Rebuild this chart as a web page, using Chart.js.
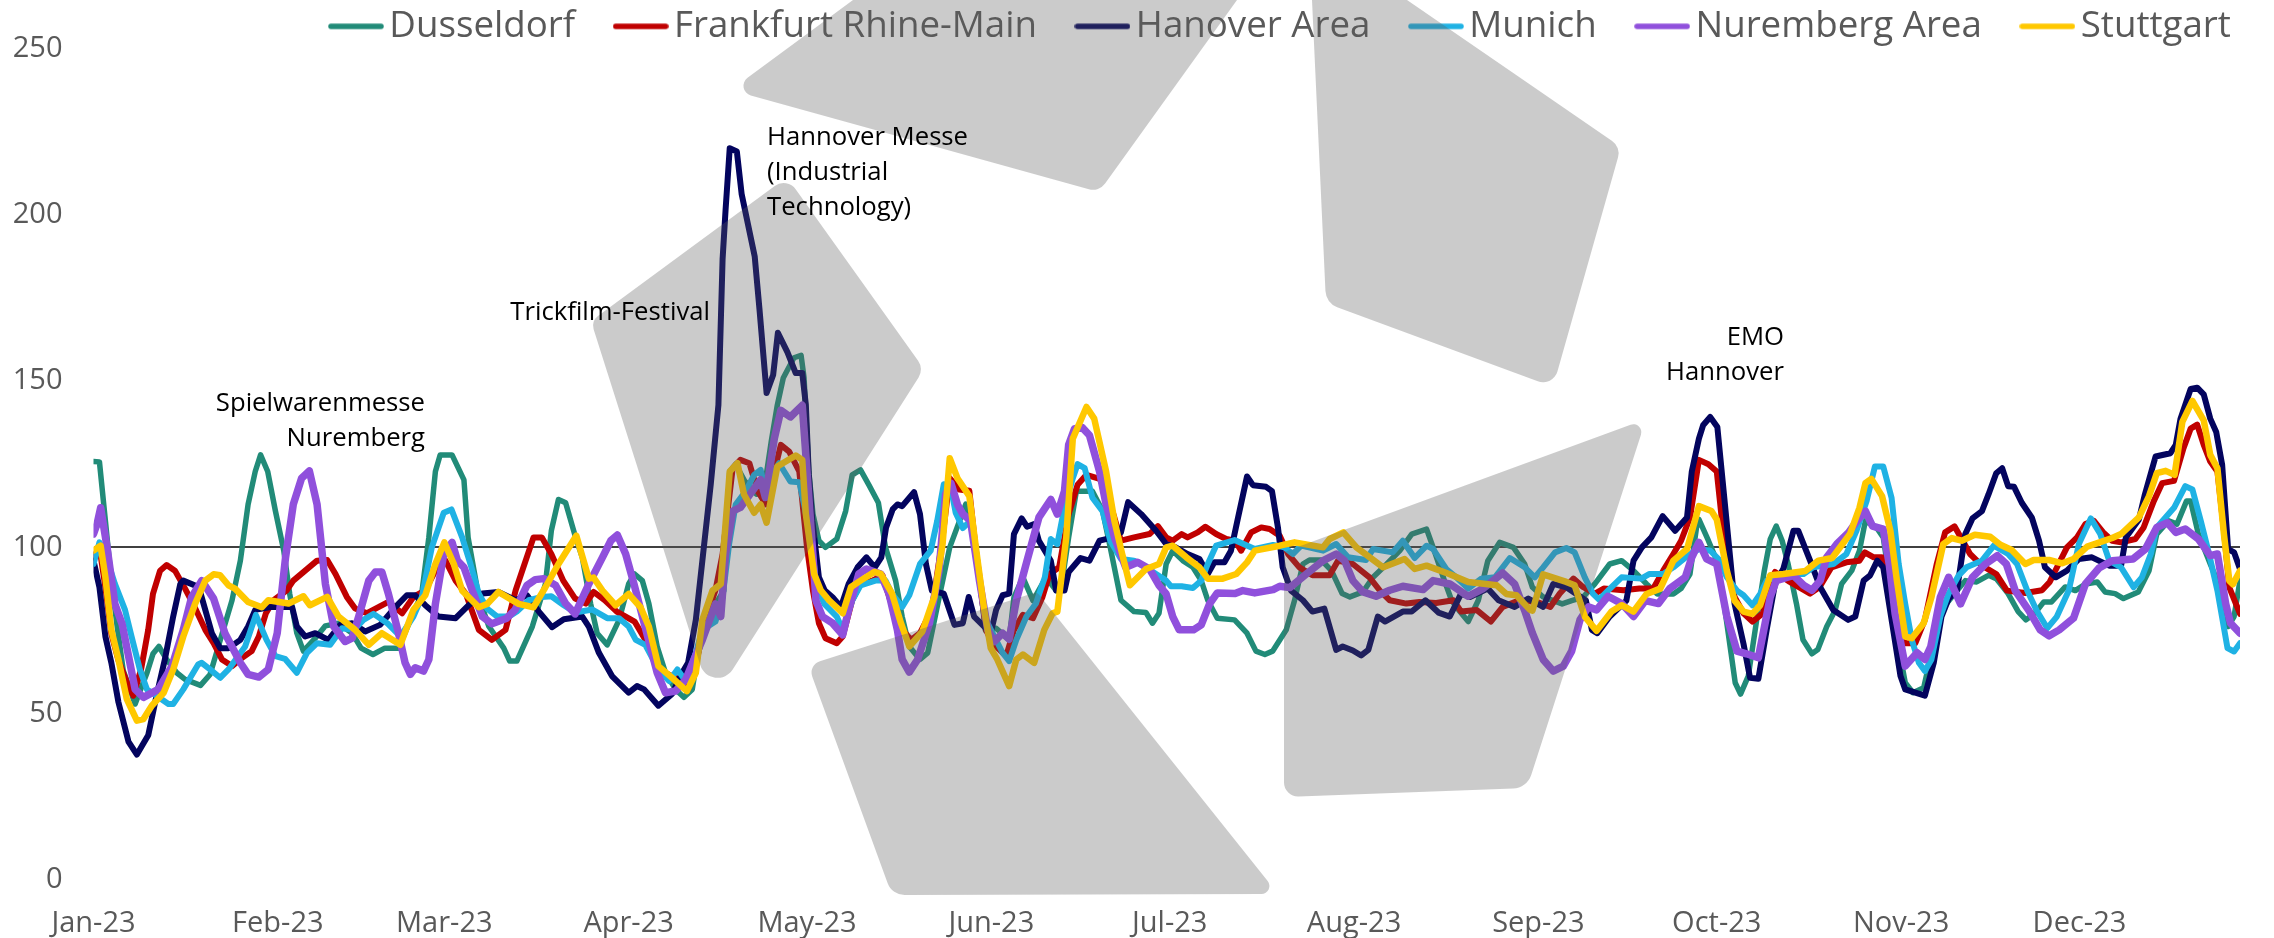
<!DOCTYPE html>
<html>
<head>
<meta charset="utf-8">
<style>html,body{margin:0;padding:0;background:#fff}#w{width:2274px;height:938px;position:relative}canvas{display:block}</style>
<script src="https://cdn.jsdelivr.net/npm/chart.js@4/dist/chart.umd.min.js"></script>
</head>
<body>
<div id="w"><canvas id="c" width="2274" height="938"></canvas></div>
<script>
const monthStarts=[0,31,59,90,120,151,181,212,243,273,304,334];
const monthLabels=['Jan-23','Feb-23','Mar-23','Apr-23','May-23','Jun-23','Jul-23','Aug-23','Sep-23','Oct-23','Nov-23','Dec-23'];
const seriesNames=['Dusseldorf','Frankfurt Rhine-Main','Hanover Area','Munich','Nuremberg Area','Stuttgart'];
const seriesColors=['#218b78','#c00000','#03045e','#1fb2e4','#9050dc','#ffc800'];
const yTicks=[0,50,100,150,200,250];
// [day of year, index value]
const dusseldorf=[[0,125.8],[1,125.7],[2,108],[3,90],[4,76],[5,63],[7,52.9],[9,62.3],[10,68],[11,70.2],[12.3,66.3],[14,62.3],[15.4,60.3],[18,58.5],[19.6,61.8],[21,70.2],[23.3,84.1],[24.7,96],[26,112.9],[27.2,122.8],[28.1,127.8],[29.3,122.8],[30.6,110.9],[32,99],[33,86],[34.2,74.2],[35.3,68.8],[37.3,72.7],[39,76.4],[41.2,77.2],[43.5,74.2],[45,69.7],[47,67.8],[49,69.7],[51.3,69.7],[53.3,78.2],[55.2,86],[56.4,103],[57.5,122.8],[58.3,127.8],[60.3,127.8],[62.3,120.3],[63,103],[64.8,85],[66.5,76.2],[69,69.7],[70,65.8],[71.2,65.8],[73.8,76.2],[76,89],[77,105],[78.2,114.4],[79.4,113.4],[81,103.5],[82.2,97],[83.6,83.1],[84.7,74.2],[86.4,70.7],[88.4,78.2],[90,89],[91,92],[92.3,90],[93.4,83.1],[94.8,70.2],[96.2,62.3],[97.9,57.3],[99.3,54.9],[100.7,57.3],[101.5,66.3],[102.9,78.2],[104.6,83],[106,87],[107,122.8],[108,125],[109.5,120],[111.5,116],[113,120],[114,132],[115,142.7],[116,150.9],[117.8,157],[119,157.7],[119.5,151],[120.3,122.8],[121,110],[122,102],[123.1,100],[125,102.5],[126.5,110.9],[127.6,121.8],[129,123.3],[130.4,118.8],[132,113.4],[133.2,100],[134.9,90],[136,79.2],[137.2,70.2],[139,66.3],[140.3,68.3],[142,83.1],[144,100],[146.7,113],[148.4,100],[150,75],[151.8,75.7],[154,72.2],[154.8,85],[156.3,91],[158,84],[160.2,91],[161.9,87],[163,91],[164,103],[165.3,116.9],[168,116.9],[169.7,111],[171,100],[172.8,84.1],[175,80.7],[177,80.4],[178.1,77.2],[179.2,80.2],[180.4,95],[181.5,99],[183.2,96],[184.9,94],[186.3,90],[187.4,84.1],[189,78.7],[191.9,78.2],[194,74.2],[195.5,68.8],[197,67.8],[198.3,68.8],[200.6,75.2],[202,84.1],[203.4,95],[204.5,96.2],[206.5,96.2],[208.2,93],[210,86.1],[211.3,85.1],[213.5,86.6],[215.2,91],[217.5,95],[219.7,99],[221.7,104],[224.2,105.5],[225.3,100],[227,91],[228.4,84.1],[229.8,80.7],[231.2,77.7],[232.9,84.1],[234.5,96],[236.5,101.5],[238.8,100],[240.7,95],[242,88],[243.8,85.1],[247,83],[248.6,84],[250.5,85],[252.5,89],[255,95],[257,96],[259,93],[261.2,89],[263,86],[265.7,86],[267,87.6],[268.5,92],[269.6,106],[270,108.4],[271.6,102],[273,96],[274,86],[275.4,68.3],[276.1,59.3],[277,55.9],[278.3,61.3],[279.8,79.2],[281,93],[282,102.5],[283,106.4],[284,102],[285,95],[286.4,83.1],[287.5,72.2],[289,68],[290,69.3],[291.5,76.2],[292.9,81],[294,89],[295.7,93],[297,99],[298,108],[300,105.6],[301,103],[302.5,85],[303.8,68],[304.7,59.3],[306,56.3],[307.8,57.8],[309,67.3],[310.8,81.2],[312.5,85],[314.8,90],[316.7,89.6],[318.7,91.6],[320,90.6],[322,86.1],[323.7,80.7],[325,78.2],[326.5,80.2],[328,83.6],[329.3,83.6],[331.6,88.1],[333.3,87],[335,89],[337,89.6],[338.3,86.6],[340,86.1],[341.4,84.6],[343.9,86.6],[345.7,93],[347,104],[349,108],[350.4,107],[352,113.9],[352.7,113.9],[354,104],[356,95],[357.4,89],[359,76.2],[360,79.2],[361,90]];
const frankfurt=[[0,97],[1,100],[2,88],[3,74],[4.2,66],[5.5,60],[6.7,55.4],[8,63.3],[9.2,75.2],[10,86],[11.2,93],[12.3,94.7],[13.7,93],[15.4,87.6],[17,82.1],[18.8,75.2],[20.2,71.2],[21.6,66.3],[23.3,64.3],[25,66.8],[26.6,68.8],[27.8,73.2],[29,80.2],[30.3,84.1],[32.5,87.1],[33.6,90],[35.6,93],[37.6,96],[39.3,96.2],[40.7,92],[42.6,85.1],[44,81.6],[46,80.2],[48,82.1],[49.6,83.6],[51.9,80.2],[53.8,85.1],[55.8,87.1],[57.5,93],[59.2,96],[60.9,90],[62.6,86.1],[64.8,75.2],[67,72.2],[69.3,75.2],[71,87.1],[74,103],[75.4,103],[77,98],[79,90],[81,84.6],[82.8,83.1],[84.1,86.6],[86,84.1],[88,80.7],[91,77.7],[92.8,72.2],[95,63.3],[98.4,60.3],[100,57.3],[101.5,66.3],[102.9,78.2],[104.6,87.1],[105.8,98],[107.5,123.8],[108.8,126.3],[110.3,125.3],[111.7,116.9],[113.1,112.9],[114.5,122.8],[115.6,130.8],[117,128.8],[118.7,122.8],[120,100],[121,87],[122,77.2],[123.1,72.7],[125,71.2],[126,73.2],[127.6,84.1],[129,89.1],[131,90],[132.7,91.6],[134,84.1],[136,75.2],[137.5,72.2],[139,74.2],[141,81.2],[142.8,103],[144,120.8],[145.6,117.4],[147.3,117],[148.4,99],[150.1,75.2],[151.2,71.2],[153.5,67.3],[154.8,75.2],[156.3,79.7],[158,78.7],[159.6,85.1],[160.8,92],[162.4,94],[164,110],[165.5,118.8],[167,121.8],[169.2,120.6],[170.3,116.9],[171.7,108.9],[172.8,102],[175,103],[177.6,104],[179,106.4],[180.4,103],[181.5,102],[183,104],[184,103],[185.7,104.5],[187,106.2],[188.8,104],[190.5,102.5],[192,102],[193,99],[194.7,104.5],[196.4,106],[197.8,105.5],[199.5,103.5],[200.9,98],[202.8,94],[205,91.6],[207.9,91.6],[209.3,96],[211.8,95],[214.6,91],[216.3,87.1],[218,84.1],[220.8,83.1],[223,83.6],[225.8,83.3],[228.7,84.1],[230,80.7],[232.6,81.2],[235,77.7],[237,82.1],[239.8,84.1],[242.7,83.6],[245,82.1],[246.6,86.1],[248.9,90.6],[250.5,88.1],[252.5,86.1],[254,87.6],[257.3,87.1],[260,87.6],[262.3,87.6],[264,93],[265.7,98],[267,102],[268.5,109],[270,126.3],[271.6,125],[273,122.8],[274,106],[275,95],[276,85.1],[277.5,80.2],[279,77.7],[280.8,80.2],[281.9,89.1],[282.8,92.6],[285.3,89.6],[288.7,86.1],[290.3,88.1],[292.3,94],[294.8,95.5],[297,96],[297.9,98.5],[299.4,97],[300.8,97],[301.6,90],[303,78],[304.7,71.2],[306.4,71.2],[308,78.2],[310,95],[311.4,104.5],[313,106.3],[314.2,102.5],[315.6,98],[317.6,94.5],[320,92],[321.8,87],[324.9,86.3],[327.7,87.1],[329,89.6],[330.5,95],[331.9,100],[333.6,103],[335,107],[336.4,108],[338,104.5],[339.5,102],[341,101.5],[343.4,102.5],[344.8,106],[346.5,113.9],[347.9,119.3],[349.9,120],[351.5,129.8],[352.7,135.7],[353.8,136.9],[354.9,130.8],[356,125.8],[357.2,122.8],[358.3,105],[359.2,88],[360.3,83.1],[361,80]];
const hanover=[[0,96],[1,88],[2,73.2],[3,65.3],[4.2,53.4],[5.9,41.5],[7.3,37.7],[9.2,43.5],[10.6,55.4],[12,66.3],[13.4,79.2],[14.6,89],[15.1,90],[17.7,88.1],[18.8,81.2],[19.9,74.2],[21.3,69.7],[22.7,69.7],[24.7,72.2],[26,76.2],[27.2,81.2],[30,82.1],[33.4,82.1],[34.2,76.2],[35.6,73.2],[37.3,74.2],[39.5,72.2],[41.5,76.7],[43.5,77.2],[45.7,74.7],[48.2,76.7],[50.8,82.1],[52.7,85.6],[54.1,85.6],[55.8,82.6],[58,79.2],[60.9,78.7],[63.1,82.6],[65.4,86.1],[68.1,86.6],[71,84.1],[72.9,85.6],[74.9,80.7],[77.1,76],[79.1,78.4],[82.2,79.2],[83.3,76.2],[85,68.3],[87.2,61.3],[90,56.3],[91.4,58.3],[92.6,57.3],[95,52.4],[97.3,55.9],[99,62.3],[100,65.3],[101.3,78.2],[102.4,96],[103.8,118.8],[105.1,142.8],[105.8,186.6],[106.3,201.4],[107,220],[108.2,219],[109,206.3],[111.2,187.5],[112,171.7],[113.2,146.4],[114.3,151.8],[115.1,164.5],[116.7,158.7],[118.1,152.4],[119.2,152.4],[119.8,142.9],[120.3,122],[120.9,108],[122,91],[123,87],[124.3,85],[125.7,82.1],[127,89],[128.5,94],[130,97],[131.4,94],[132.5,97],[133.3,106],[134.4,111.4],[135.2,112.9],[136,112.4],[138,116.6],[139,110],[140,95],[141,87],[143,86.1],[144.8,76.7],[146.2,77.2],[147.2,85.1],[148.1,79.2],[149.8,76.2],[150.9,74.2],[151.8,81.2],[152.9,85.6],[154,86.1],[154.8,104],[156.1,108.7],[157,106.2],[158.2,107],[159,102],[161,96],[161.9,87],[163.3,87],[164,92.6],[166,96.8],[167.5,96],[169.2,102],[171,102.8],[172.8,104.5],[174,113.6],[176.2,110],[178.7,105],[180.4,101],[182,100],[184,98],[186,96.5],[187.4,92],[188.5,95.5],[190.2,95.5],[191.3,99],[192.5,109],[194,121.3],[195,118.7],[197.2,118.2],[198.2,116.9],[199.2,106],[200,94],[201.4,87],[203.4,84.1],[205,80.7],[207,81.6],[209,69.2],[210.1,70.2],[211.8,69],[213.2,67.5],[214.4,69.2],[216,79.2],[217.2,77.7],[220.2,80.7],[221.7,80.7],[224,84.1],[226.2,80.4],[228.1,79.2],[230,86.1],[231.5,85.1],[234.5,87.6],[236.3,84.1],[239,82.1],[241.3,84.6],[243.8,82.1],[245.5,89],[247.7,88],[251,84],[252,75.2],[252.9,74.2],[255,79.2],[257.8,84],[259,96],[260.4,100],[262,103],[263.9,109.4],[266,105],[268,109],[268.8,122.8],[270,132.7],[270.7,136.7],[271.9,139.2],[273.1,136.2],[274,119.8],[275.3,96],[276,83],[277.5,71],[278.6,60.8],[280,60.5],[281.4,75.2],[282.8,89],[284.2,93.6],[285.9,105],[286.7,105],[288.7,96],[290.4,88],[292.6,81.2],[295.1,78.2],[296.3,79.2],[297.7,90],[298.8,91.6],[300,96],[301,94],[302.5,77.2],[303.9,61.3],[304.7,57.3],[306.4,56.3],[308,55.4],[309.5,65.3],[310.8,79.2],[312,84.6],[313.4,87.1],[314.8,104],[316,108.7],[317.6,110.9],[318.7,115.9],[320,122.3],[321,123.8],[322,118.4],[323,118.2],[324.3,113.4],[326,108.9],[327.2,102],[328.2,94],[330,91],[331.9,93],[333.9,96.5],[336.1,97],[339,94.5],[341,94.5],[341.8,103],[344,108.4],[345,115.9],[346.8,127.3],[349.3,128.3],[350.2,130.8],[351,138.7],[352.7,147.6],[353.8,148],[354.9,146],[356,138.7],[357,134.7],[358,124.8],[359,99.5],[360,98.5],[361,93.5]];
const munich=[[0,95],[1,101.5],[2,98],[3.6,89],[5.3,81.2],[6.4,73.2],[7.8,63.3],[9,57.3],[10.6,55.4],[12.6,52.9],[13.4,52.9],[15.1,57.3],[17.6,64.8],[18.2,65.3],[19.6,63.3],[21.3,60.8],[22.7,63.3],[25.5,70.2],[27.3,79.7],[29.1,72.2],[30.6,67.3],[32.2,66.5],[34.2,62.3],[35.9,68.3],[37.6,71.2],[39.8,70.7],[41.8,75.7],[43.8,75.2],[45.4,78.2],[47.1,80],[49.4,77.2],[51.6,73.2],[53.8,79.2],[55.2,85],[56.9,100],[58.9,110.4],[60.2,111.4],[62,103],[63.4,95],[64.8,86.1],[66.2,81.6],[67.9,79.2],[69.9,79.2],[71.2,80.7],[73.2,84.1],[75.4,85.1],[77,85.3],[79.1,82.6],[81,80.4],[83.9,81.3],[86.4,78.7],[88.4,78.7],[90,76.2],[91.2,72.2],[92.8,70.7],[95,63.3],[96.8,59.8],[98.2,63.3],[99.6,59.8],[101.3,68.3],[102.4,75.2],[104.6,77.7],[105.8,85],[106.9,101],[108,112.9],[109.7,116.9],[111.1,121.8],[112.2,123.3],[113.3,115],[114.5,122.8],[115.3,125.3],[117.2,119.8],[118.7,119.6],[119.5,112.9],[120.9,100],[121.5,89],[122.9,83],[125,79.2],[126,75.2],[127.6,84],[129,88.6],[131.5,90],[133.2,90],[134.3,86],[136,82.1],[137.2,85.6],[139,95],[140.8,99],[141.9,108],[143,119],[144.2,117.9],[145,110.4],[146.2,105.8],[147.5,108],[149,90],[150.1,78.2],[151.5,73.2],[152.9,68.3],[154,65.8],[155.2,72.2],[156.9,79.2],[158.5,83.1],[160,91],[161,102.5],[162.1,101],[163.3,112],[164.7,120.8],[165.5,125],[166.7,123.8],[168,114.9],[169.7,110.9],[171,102],[172.8,96.5],[175,96],[177,94],[178.7,92],[180.4,90],[181.2,88.3],[183,88.3],[184.9,87.8],[186.3,90],[187.4,95],[188.8,100.5],[191.9,102.2],[195.3,99.5],[198.4,100.7],[200.3,100],[201.7,98],[203.1,100.5],[206.8,99],[209,101],[211,97],[214,96.2],[215.2,99.5],[218.5,98.5],[220.2,102],[222.2,96.8],[224.2,100.5],[225.3,99.5],[227.5,93.5],[229.2,91],[231.2,87.6],[233.4,90.6],[235.7,91],[238.2,96.8],[240.7,94],[242.4,91],[243.8,94],[245.8,98.5],[247.7,99.8],[249.1,98.5],[250.8,91],[252.2,86],[253.2,84.3],[254.7,87],[257,91],[260.3,90.6],[261.7,92],[264,92],[265.7,94],[268.5,98],[270,99.5],[271.9,99],[273.3,96.5],[274.7,91],[276.4,87],[277.5,85.6],[279,82.6],[280.3,86],[281.4,90],[284.2,92],[287.6,92],[289.2,94],[292.6,95],[294.8,98],[296.5,105],[298.2,113.9],[299.6,124.3],[301,124.3],[302.4,114.9],[303.6,95],[304.7,83],[305.8,72.2],[307,65.3],[308,62.8],[309.1,66.3],[310.6,79.2],[312,86.1],[313.7,91.6],[315,94],[317.6,96],[319.6,100.5],[322,98],[323.5,95],[325.2,87.1],[326.8,81],[328.6,75.7],[330.2,79.2],[332.2,87],[333.9,101],[335.9,108.7],[337.5,104],[339,96],[341,94],[343.1,88],[344.5,91],[346,98],[347,106],[349.9,111.9],[351.8,118.4],[353,117.4],[354.4,108],[355.8,98],[357.2,87],[358.9,69.7],[360,68.7],[361,71.2]];
const nuremberg=[[0,104],[0.6,107],[1.2,111.9],[2.2,101],[3.6,83],[4.8,77],[5.9,67.3],[7,57.3],[8.4,54.9],[10.9,57.3],[13.2,64.3],[15.1,75.2],[16.5,85],[18.2,90],[20.2,84.6],[22.1,74.2],[24.7,65.3],[26,61.8],[27.8,61],[29.4,63.3],[30.9,74.2],[32.3,97],[33.6,112.9],[35,120.8],[36.3,123],[37.6,112.9],[39,89],[40.4,76.2],[42.3,71.7],[43.5,72.7],[44.6,79.2],[46.3,90],[47.4,92.6],[48.5,92.6],[49.6,86],[51.3,74.2],[52.4,65.3],[53.3,61.8],[54.1,63.8],[55.5,62.8],[56.4,66.3],[57.5,83],[58.9,98],[60.3,101.5],[61.2,96],[62.3,94],[63.7,87],[65.4,79.2],[67,77],[69.5,78.7],[70.9,81.2],[72.9,88.6],[74.3,90.3],[75.7,90.6],[77.7,88.6],[79.4,83.1],[81,80],[83.3,89],[85.6,97],[87,102],[88.1,103.7],[89.5,98],[90.9,89],[92.9,75.2],[94.8,62.3],[96.2,56.3],[97.9,56.8],[99.6,60.3],[101,66.3],[102.4,72.2],[104.6,83],[105.5,79.2],[106.3,98],[107.5,110.9],[108.8,112],[110.8,116.9],[112.2,120.3],[113,115],[114.5,132.7],[115.6,141.2],[117.2,139.2],[119.2,142.7],[119.8,127.8],[120.9,100],[121.5,84],[122.6,79.2],[124.3,77.2],[126,73.7],[127,81.2],[128.7,92],[130,93.5],[132.4,92],[133.8,86],[135.2,75.2],[136,66.3],[137.2,62.5],[138.6,66.3],[140.6,77.2],[142.2,93],[143.3,115.9],[144.2,119.3],[145.3,112.9],[146.2,110],[147.5,108],[149,90],[150.4,75.2],[151.5,71.7],[152.9,74.2],[154,72.4],[155.2,84],[157,96],[159,109],[161,114.4],[162.1,110],[163.3,116.9],[164,130.8],[165,135.7],[166.3,136],[167.5,133.7],[169.2,122.8],[170.3,112.9],[171.7,103],[173.6,94],[175.6,95.5],[177.6,93.5],[179.2,88.6],[180.4,86],[181.5,79.2],[182.6,75.2],[185,75.2],[186.3,76.7],[187.7,83],[189,86.3],[192,86.1],[193.3,87],[195.3,86.3],[198.4,87.3],[199.5,88.3],[201.2,87.9],[204,92],[206.8,96],[209,98],[210.4,96],[211.8,90],[213.5,86.6],[215.7,85.3],[218,87.1],[220.2,88.3],[223.6,87.3],[225.3,90],[228.1,89],[231.2,85.3],[233.7,87.6],[237,92.3],[239,89],[240.7,81],[242,74.2],[243.8,66.3],[245.5,62.8],[247.2,64.3],[248.6,68.8],[250,78.2],[251.4,82.1],[252.8,81.2],[254.7,85.3],[257,83.1],[259,79.2],[261,84],[263.2,83.1],[265.1,87.6],[267.7,91],[268.8,97],[270,101.5],[271.3,96.5],[273,95],[274.7,79.2],[276.4,68.8],[278,68],[280,66.8],[282,85.1],[283,90],[285.9,91.6],[287.6,88.6],[289,87.1],[290.4,90],[291.5,97],[293.2,101],[295.2,104.5],[296.6,108],[298,110.9],[299.2,106.4],[301,105.5],[302,95],[303,80],[304.7,64.3],[306.7,68.3],[308,66.3],[309,70.2],[310.6,85],[312,91],[314,83],[316,91],[318.2,95],[320.2,97.5],[321.7,95],[323.2,87],[325.5,81],[327.4,75.2],[328.9,73.4],[330.6,75.2],[333,78.7],[335,89],[337.3,93.8],[339.5,96],[343,96.5],[345.1,99.5],[347,106],[348.8,107.4],[350.2,104.5],[351.8,105.5],[354,102.5],[356,97.5],[357.2,98],[358.6,83],[359.4,77.2],[361,74.2]];
const stuttgart=[[0,99],[1.2,100.5],[2,91],[3,75.2],[4.2,66.3],[5.6,54.4],[7.3,47.9],[8.4,48.4],[9.8,52.4],[11.8,56.3],[13.4,63.3],[15.1,73.2],[17.1,83.1],[18.8,90],[20.2,91.9],[21.3,91.6],[22.7,88.6],[23.8,87.6],[26,83.6],[28.3,82],[29.4,84.1],[32.8,83.1],[35.3,85.3],[36.4,82.6],[39.3,85.1],[41.2,79.2],[44,75.2],[46.3,70.7],[48.5,74.2],[51.6,70.7],[53.8,81.2],[55.8,85.6],[57.5,95],[59,101.5],[60.6,95],[62,87],[64.8,82],[66.2,83],[68.1,86.6],[71.5,83],[74,82],[76,88],[78.2,95],[81.2,103.5],[83.3,90.6],[84.1,90.9],[85.6,87],[87.8,82.6],[90,86],[92,82],[93.4,76.2],[95,64.3],[97.3,60.8],[99.8,56.8],[101.3,62.3],[102.4,78.2],[104.1,87],[105.5,89],[107,122.8],[108.3,125.3],[109.4,115.9],[111.1,110.4],[112.2,112.9],[113.2,107.4],[115,124.3],[118.1,127.6],[119.2,126.3],[119.8,110],[121.2,92],[122.3,87.1],[123.7,84.1],[126,80.2],[127.4,88.1],[129,90],[131.3,92.6],[132.4,92],[134.3,86.1],[135.8,77.2],[137.2,70.2],[139.4,74.7],[141.4,85.1],[142.8,101],[144,126.8],[145.3,120.8],[147.3,115.4],[148.4,100],[149.8,81.2],[150.9,69.7],[152,66.3],[154,58.3],[155.2,66.3],[156.3,67.8],[158.2,65.3],[159.9,75.2],[161.3,80.2],[162.1,80.7],[163.6,103],[164.7,132.7],[167,142.2],[168.3,138.7],[170.3,122.8],[171.7,107.9],[173,98],[174.3,88.6],[177,93.5],[179.2,95],[180.4,100],[181.5,100.5],[183.8,97],[186,94],[187.4,90.6],[189.9,90.6],[192.2,92],[194,95.5],[195.3,99],[199.5,100.5],[202,101.5],[206.8,100],[207.9,102.5],[210.2,104.5],[212.4,100],[216.9,94],[220.5,96.5],[222.2,93.5],[224.2,94.5],[228,92],[231.2,89.6],[236,88.6],[237.6,86],[239.3,85.6],[241.6,81.2],[242,81],[243.8,91.9],[247.7,89.6],[249.1,88.6],[250.8,79.2],[252.8,74.9],[255.3,80.7],[257,82.6],[259,80.7],[261.2,86],[263.5,87.6],[265.7,96],[268,99.5],[270,112.4],[272.1,110.9],[273,108.4],[274.7,93],[276,84],[277.5,80.7],[279,80],[280.3,82.6],[282,91.6],[284.2,92],[287.9,92.9],[290.1,96],[292.4,96.8],[295.4,104],[297,111.9],[298,119.3],[299,120.6],[300.8,115.4],[302.2,105],[303.3,90],[304.7,73.2],[305.8,72.7],[307.8,77.2],[309.1,85],[311.1,101],[312.5,102.8],[314.2,102],[316.4,103.8],[319,103.2],[320.7,100.8],[322.6,99.2],[324.9,95],[326.3,96.2],[328.9,96.2],[331.1,95.2],[333,96.5],[335.3,100.2],[339.5,102.8],[341,104],[344,109],[345.7,115.4],[347,122.3],[348.5,123],[350,121.8],[351.3,137.7],[353,144],[354.9,138.2],[356,127.8],[357.2,123.8],[358.3,104],[359.2,90],[359.8,88.9],[361,93]];
const allSeries=[dusseldorf,frankfurt,hanover,munich,nuremberg,stuttgart];
const lineWidths=[5.5,6,6,6,7.5,6.5];
const annotations=[
 {lines:['Spielwarenmesse','Nuremberg'],x:425,y:403.5,align:'right'},
 {lines:['Trickfilm-Festival'],x:710,y:313,align:'right'},
 {lines:['Hannover Messe','(Industrial','Technology)'],x:767,y:137.5,align:'left'},
 {lines:['EMO','Hannover'],x:1784,y:337.5,align:'right'}
];
// decorative watermark petals: [x, y, cornerRadius]
const petals=[
 [[591,321,12],[787,177,15],[924,369,15],[712,702,18]],
 [[853,0,0],[731,90,10],[1099,192,15],[1237,0,0]],
 [[1312,0,0],[1326,303,18],[1553,387,15],[1621,147,15],[1407,0,0]],
 [[808,665,12],[1037,592,5],[1278,894,8],[892,895,18]],
 [[1284,552,0],[1646,419,8],[1527,788,20],[1284,797,14]]
];
function swatch(color,h){
 const c=document.createElement('canvas');c.width=56;c.height=8;
 const x=c.getContext('2d');x.strokeStyle=color;x.lineWidth=h;x.lineCap='round';
 x.beginPath();x.moveTo(3,4);x.lineTo(53,4);x.stroke();return c;
}
function petalPath(ctx,p){
 const n=p.length;ctx.beginPath();
 const a=p[n-1],b=p[0];
 ctx.moveTo((a[0]+b[0])/2,(a[1]+b[1])/2);
 for(let i=0;i<n;i++){
  const q=p[i],r=p[(i+1)%n];
  if(q[2]>0)ctx.arcTo(q[0],q[1],(q[0]+r[0])/2,(q[1]+r[1])/2,q[2]);
  else ctx.lineTo(q[0],q[1]);
  ctx.lineTo((q[0]+r[0])/2,(q[1]+r[1])/2);
 }
 ctx.closePath();
}
const decor={
 id:'decor',
 afterLayout(chart){const l=chart.legend;l.left=290.5;l.right=2274+290.5;l.top=-42.5;},
 afterDatasetsDraw(chart){
  const ctx=chart.ctx;ctx.save();ctx.fillStyle='rgba(94,94,94,0.32)';
  petals.forEach(p=>{petalPath(ctx,p);ctx.fill();});
  ctx.restore();
  ctx.save();ctx.fillStyle='#000';ctx.font='25.7px "Open Sans"';ctx.textBaseline='middle';
  annotations.forEach(a=>{ctx.textAlign=a.align;a.lines.forEach((t,i)=>ctx.fillText(t,a.x,a.y+i*35));});
  ctx.restore();
 }
};
const n=allSeries.length;
new Chart(document.getElementById('c'),{
 type:'line',
 data:{datasets:allSeries.map((s,i)=>({
  label:seriesNames[i],
  data:s.map(p=>({x:p[0],y:p[1]})),
  borderColor:seriesColors[i],
  backgroundColor:seriesColors[i],
  borderWidth:lineWidths[i],
  pointRadius:0,
  pointStyle:swatch(seriesColors[i],5.5),
  tension:0,
  borderJoinStyle:'round',
  borderCapStyle:'round',
  order:n-i,
  fill:false
 }))},
 options:{
  responsive:false,animation:false,
  layout:{padding:{top:-107.5,right:34,left:0,bottom:0}},
  plugins:{
   tooltip:{enabled:false},
   legend:{display:true,position:'top',align:'start',
    labels:{usePointStyle:true,pointStyleWidth:30,padding:50.5,color:'#595959',
     font:{family:'"Open Sans"',size:36.7},
     sort:(a,b)=>a.datasetIndex-b.datasetIndex}}
  },
  scales:{
   x:{type:'linear',min:0,max:361,
    afterBuildTicks(s){s.ticks=monthStarts.map(v=>({value:v}));},
    afterFit(s){s.height=58;},
    grid:{display:false},border:{display:false},
    ticks:{autoSkip:false,maxRotation:0,padding:18,color:'#595959',font:{family:'"Open Sans"',size:29},
     callback:v=>monthLabels[monthStarts.indexOf(v)]}},
   y:{min:0,max:250,
    afterBuildTicks(s){s.ticks=yTicks.map(v=>({value:v}));},
    afterFit(s){s.width=93.5;},
    grid:{drawTicks:false,lineWidth:2,color:c=>c.tick&&c.tick.value===100?'#404040':'rgba(0,0,0,0)'},
    border:{display:false},
    ticks:{padding:31,color:'#595959',font:{family:'"Open Sans"',size:29}}}
  }
 },
 plugins:[decor]
});
</script>
</body>
</html>
